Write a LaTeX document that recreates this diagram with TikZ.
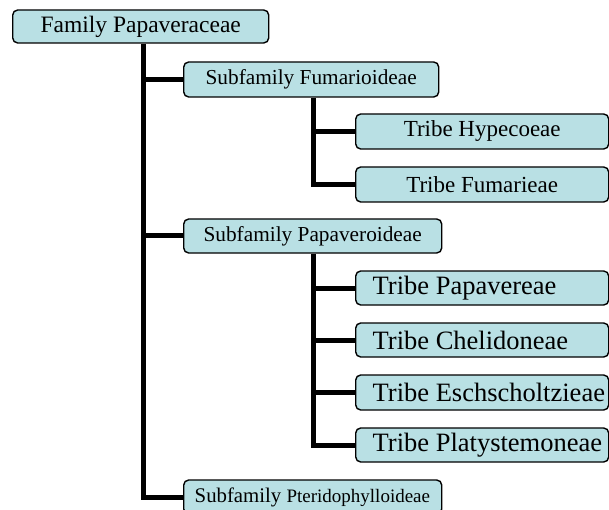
\documentclass[tikz,border=0pt]{standalone}
\usepackage{fontspec}
\setmainfont{Liberation Serif}
\definecolor{boxfill}{RGB}{185,224,228}
\newcommand{\leftbox}[3]{\makebox[#1][l]{\hspace*{#2}#3}}
\tikzset{
  box/.style={draw=black, fill=boxfill, line width=1.4pt, rounded corners=5pt,
    inner sep=0pt, anchor=west},
  famtext/.style={font=\fontsize{23.5}{26}\selectfont},
  subtext/.style={font=\fontsize{21.3}{24}\selectfont},
  tribeU/.style={font=\fontsize{23}{26}\selectfont},
  tribeL/.style={font=\fontsize{26.5}{30}\selectfont},
  conn/.style={line width=5pt, line join=miter, draw=black}
}
\begin{document}
\begin{tikzpicture}[x=1pt,y=-1pt]
\useasboundingbox (0,0) rectangle (609,510);
\clip (0,0) rectangle (609,510);
% nodes
\node[box, famtext, minimum width=256pt, minimum height=33pt] (fam) at (12,26.5) {Family Papaveraceae};
\node[box, subtext, minimum width=255pt, minimum height=35pt] (sfum) at (183,79.5) {Subfamily Fumarioideae};
\node[box, tribeU, minimum width=253pt, minimum height=35pt] (hyp) at (355,131.5) {Tribe Hypecoeae};
\node[box, tribeU, minimum width=253pt, minimum height=35pt] (fum) at (355,184.5) {Tribe Fumarieae};
\node[box, subtext, minimum width=258pt, minimum height=34pt] (spap) at (183,236) {Subfamily Papaveroideae};
\node[box, tribeL, minimum height=34pt] (pap) at (355,288) {\leftbox{253pt}{17pt}{Tribe Papavereae}};
\node[box, tribeL, minimum height=34pt] (che) at (355,340) {\leftbox{253pt}{17pt}{Tribe Chelidoneae}};
\node[box, tribeL, minimum height=35pt] (esc) at (355,392.5) {\leftbox{253pt}{17pt}{Tribe Eschscholtzieae}};
\node[box, tribeL, minimum height=34pt] (pla) at (355,445) {\leftbox{253pt}{17pt}{Tribe Platystemoneae}};
\node[box, minimum height=34pt] (spt) at (183,497)
  {\leftbox{258pt}{11pt}{\fontsize{20.8}{24}\selectfont Subfamily \fontsize{19}{24}\selectfont Pteridophylloideae}};
% trunk coordinates
\coordinate (t) at (143,0);
\coordinate (u) at (313,0);
% connectors
\draw[conn] (fam.south -| t) |- (spt.west);
\draw[conn] (t |- sfum.west) -- (sfum.west);
\draw[conn] (t |- spap.west) -- (spap.west);
\draw[conn] (sfum.south -| u) |- (fum.west);
\draw[conn] (u |- hyp.west) -- (hyp.west);
\draw[conn] (spap.south -| u) |- (pla.west);
\draw[conn] (u |- pap.west) -- (pap.west);
\draw[conn] (u |- che.west) -- (che.west);
\draw[conn] (u |- esc.west) -- (esc.west);
\end{tikzpicture}
\end{document}
